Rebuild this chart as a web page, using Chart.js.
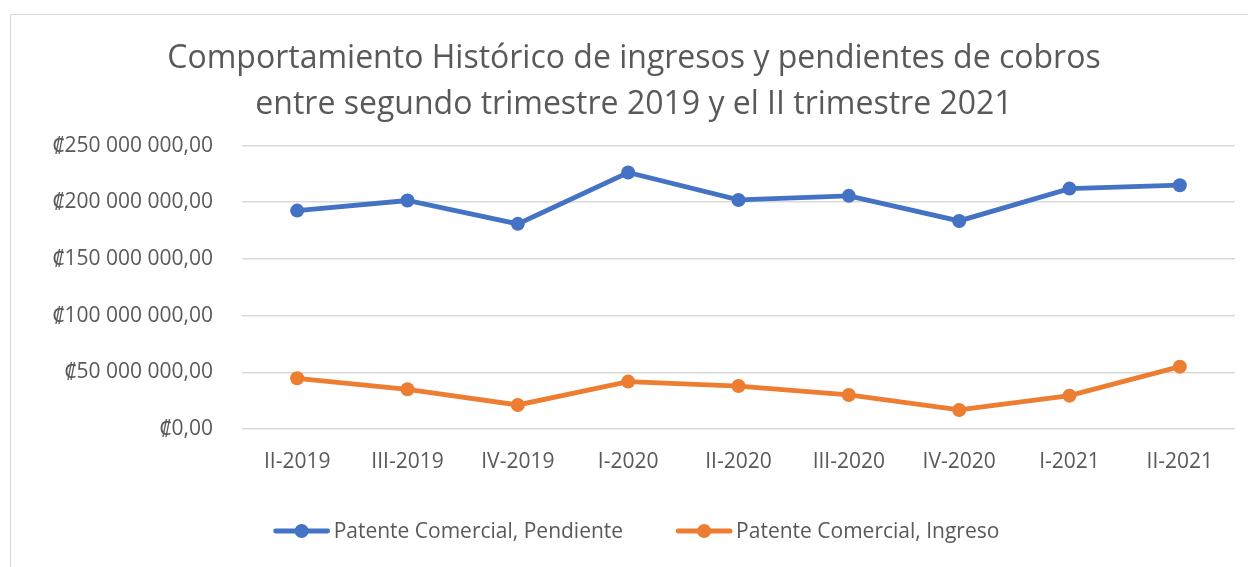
<!DOCTYPE html>
<html>
<head>
<meta charset="utf-8">
<script src="https://cdn.jsdelivr.net/npm/chart.js@4.4.0/dist/chart.umd.min.js"></script>
<style>
  html,body{margin:0;padding:0;background:#fff;}
  #wrap{position:absolute;left:0;top:0;width:1248px;height:567px;}
  #frame{position:absolute;left:10px;top:14px;right:-2px;bottom:-2px;border-left:1px solid #d9d9d9;border-top:1px solid #d9d9d9;}
  canvas{position:absolute;left:0;top:0;}
</style>
</head>
<body>
<div id="wrap"><div id="frame"></div><canvas id="c" width="1248" height="567"></canvas></div>
<script>
const categories = ["II-2019","III-2019","IV-2019","I-2020","II-2020","III-2020","IV-2020","I-2021","II-2021"];
const pendiente = [192600000, 201500000, 180900000, 226200000, 202000000, 205600000, 183500000, 212000000, 215000000];
const ingreso = [44700000, 35000000, 21200000, 41800000, 37900000, 30000000, 16800000, 29400000, 55000000];
const seriesNames = ["Patente Comercial, Pendiente", "Patente Comercial, Ingreso"];
const titleLines = ["Comportamiento Histórico de ingresos y pendientes de cobros", "entre segundo trimestre 2019 y el II trimestre 2021"];
const yTicks = [0, 50000000, 100000000, 150000000, 200000000, 250000000];

const BLUE = "#4472C4", ORANGE = "#ED7D31", TXT = "#595959", FONT = "'Open Sans', 'Noto Sans', sans-serif";
const LEGEND_FONT = "21px 'Open Sans', 'Noto Sans', sans-serif";

function fmt(v){
  const s = Math.round(v).toString().replace(/\B(?=(\d{3})+(?!\d))/g, ' ');
  return '₡' + s + ',00';
}

// Bottom legend drawn from the chart's own datasets
const lineLegend = {
  id: 'lineLegend',
  afterDraw(chart){
    const g = chart.ctx;
    const ds = chart.data.datasets;
    g.save();
    g.font = LEGEND_FONT;
    g.textBaseline = 'middle';
    const iconW = 56, gap = 4, between = 53;
    const widths = ds.map(d => iconW + gap + g.measureText(d.label).width);
    const total = widths.reduce((a,b)=>a+b,0) + between*(ds.length-1);
    let x = 636.5 - total/2;
    const y = 531;
    ds.forEach((d,i) => {
      g.strokeStyle = d.borderColor; g.lineWidth = 4.8; g.lineCap = 'round';
      g.beginPath(); g.moveTo(x+2, y); g.lineTo(x+iconW-2, y); g.stroke();
      g.fillStyle = d.borderColor; g.beginPath(); g.arc(x+iconW/2, y, 7, 0, Math.PI*2); g.fill();
      g.fillStyle = TXT; g.textAlign = 'left';
      g.fillText(d.label, x+iconW+gap, y+1);
      x += widths[i] + between;
    });
    g.restore();
  }
};

new Chart(document.getElementById('c'), {
  type: 'line',
  data: {
    labels: categories,
    datasets: [
      {label: seriesNames[0], data: pendiente, borderColor: BLUE, backgroundColor: BLUE, borderWidth: 4.8, pointRadius: 7, pointHoverRadius: 7, pointBorderWidth: 0, tension: 0},
      {label: seriesNames[1], data: ingreso, borderColor: ORANGE, backgroundColor: ORANGE, borderWidth: 4.8, pointRadius: 7, pointHoverRadius: 7, pointBorderWidth: 0, tension: 0}
    ]
  },
  plugins: [lineLegend],
  options: {
    responsive: false,
    animation: false,
    layout: {padding: {left: 33, right: 13, top: 0, bottom: 78}},
    plugins: {
      tooltip: {enabled: false},
      legend: {display: false},
      title: {display: true, text: titleLines, color: TXT, font: {family: FONT, size: 32, weight: 'normal', lineHeight: 1.43}, padding: {top: 36, bottom: 18}}
    },
    scales: {
      x: {
        offset: true,
        grid: {display: false, drawTicks: false},
        border: {display: false},
        ticks: {color: TXT, font: {family: FONT, size: 21}, padding: 20, maxRotation: 0},
        afterFit: (s) => { s.height = 60; }
      },
      y: {
        min: 0, max: 250000000,
        afterBuildTicks: (s) => { s.ticks = yTicks.map(v => ({value: v})); },
        grid: {color: '#d9d9d9', lineWidth: 1.5, drawTicks: false},
        border: {display: false},
        ticks: {color: TXT, font: {family: FONT, size: 21}, padding: 29, callback: (v) => fmt(v)},
        afterFit: (s) => { s.width = 209; }
      }
    }
  }
});
</script>
</body>
</html>
